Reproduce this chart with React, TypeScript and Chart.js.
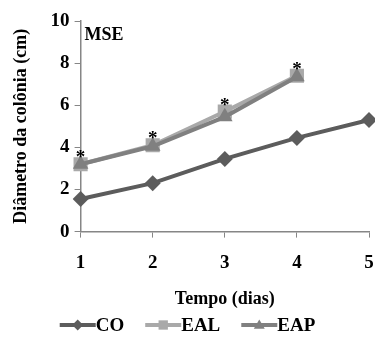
import React, { useEffect, useRef } from "react";
import { Chart, registerables } from "chart.js";

Chart.register(...registerables);

const days = ["1", "2", "3", "4", "5"];
const coValues = [1.55, 2.3, 3.45, 4.45, 5.3];
const ealValues = [3.2, 4.1, 5.7, 7.4, null];
const eapValues = [3.2, 4.05, 5.45, 7.35, null];
const significance = ["*", "*", "*", "*", ""];

const FONT = "'Liberation Serif', 'Times New Roman', serif";
const AXIS = "#868686";
const PAGE_W = 375;

const seriesMeta = [
  { label: "CO", color: "#5c5c5c", style: "rectRot", radius: 8 },
  { label: "EAL", color: "#a9a9a9", style: "rect", radius: 10 },
  { label: "EAP", color: "#808080", style: "triangle", radius: 9 },
];

function drawMarker(ctx: CanvasRenderingContext2D, style: string, x: number, y: number, r: number) {
  ctx.beginPath();
  if (style === "rectRot") {
    ctx.moveTo(x, y - r);
    ctx.lineTo(x + r, y);
    ctx.lineTo(x, y + r);
    ctx.lineTo(x - r, y);
  } else if (style === "rect") {
    const s = r * 0.85;
    ctx.rect(x - s, y - s, 2 * s, 2 * s);
  } else {
    ctx.moveTo(x, y - r);
    ctx.lineTo(x + r, y + r * 0.7);
    ctx.lineTo(x - r, y + r * 0.7);
  }
  ctx.closePath();
  ctx.fill();
}

const annotations = {
  id: "annotations",
  afterDatasetsDraw(chart: any) {
    const ctx = chart.ctx;
    const xs = chart.scales.x;
    const ys = chart.scales.y;
    ctx.save();
    ctx.fillStyle = "#000";
    ctx.font = `bold 19px ${FONT}`;
    ctx.textAlign = "center";
    ctx.textBaseline = "alphabetic";
    significance.forEach((s, i) => {
      const v = ealValues[i];
      if (!s || v == null) return;
      const top = Math.max(v, eapValues[i] ?? v);
      ctx.fillText(s, xs.getPixelForValue(i), ys.getPixelForValue(top) - 1);
    });
    ctx.textAlign = "left";
    ctx.textBaseline = "middle";
    ctx.font = `bold 18px ${FONT}`;
    ctx.fillText("MSE", chart.chartArea.left + 4, chart.chartArea.top + 14);
    ctx.restore();
  },
  afterDraw(chart: any) {
    const ctx = chart.ctx;
    ctx.save();
    ctx.font = `bold 19px ${FONT}`;
    const lineLen = 36;
    const gap = 21;
    const widths = seriesMeta.map((m) => ctx.measureText(m.label).width);
    const total =
      widths.reduce((a, b) => a + b, 0) + seriesMeta.length * lineLen + gap * (seriesMeta.length - 1);
    let x = PAGE_W / 2 - total / 2;
    const y = 325;
    seriesMeta.forEach((m, i) => {
      ctx.strokeStyle = m.color;
      ctx.lineWidth = 4;
      ctx.beginPath();
      ctx.moveTo(x, y);
      ctx.lineTo(x + lineLen, y);
      ctx.stroke();
      ctx.fillStyle = m.color;
      drawMarker(ctx, m.style, x + lineLen / 2, y, 5.5);
      ctx.fillStyle = "#000";
      ctx.textAlign = "left";
      ctx.textBaseline = "middle";
      ctx.fillText(m.label, x + lineLen, y + 1);
      x += lineLen + widths[i] + gap;
    });
    ctx.restore();
  },
};

export default function App() {
  const ref = useRef<HTMLCanvasElement>(null);
  useEffect(() => {
    if (!ref.current) return;
    const series = [coValues, ealValues, eapValues];
    const chart = new Chart(ref.current, {
      type: "line",
      data: {
        labels: days,
        datasets: [2, 1, 0].map((k) => ({
          label: seriesMeta[k].label,
          data: series[k] as any,
          borderColor: seriesMeta[k].color,
          backgroundColor: seriesMeta[k].color,
          borderWidth: 4,
          pointStyle: seriesMeta[k].style as any,
          pointRadius: seriesMeta[k].radius,
          pointBorderWidth: 0,
          tension: 0,
          spanGaps: false,
        })),
      },
      options: {
        animation: false,
        responsive: true,
        maintainAspectRatio: false,
        layout: { padding: { top: 21, right: 2, bottom: 46, left: 11 } },
        plugins: { legend: { display: false }, tooltip: { enabled: false } },
        scales: {
          x: {
            offset: false,
            afterFit: (scale: any) => {
              scale.paddingRight = 0;
              scale.paddingLeft = 0;
            },
            grid: { drawOnChartArea: false, drawTicks: true, tickLength: 6, color: AXIS },
            border: { color: AXIS, width: 1.5 },
            ticks: { color: "#000", font: { family: FONT, size: 19, weight: "bold" }, padding: 14, maxRotation: 0 },
            title: {
              display: true,
              text: "Tempo (dias)",
              color: "#000",
              font: { family: FONT, size: 18, weight: "bold" },
              padding: { top: 0, bottom: 0 },
            },
          },
          y: {
            min: 0,
            max: 10,
            ticks: { stepSize: 2, color: "#000", font: { family: FONT, size: 19, weight: "bold" }, padding: 5 },
            grid: { drawOnChartArea: false, drawTicks: true, tickLength: 6, color: AXIS },
            border: { color: AXIS, width: 1.5 },
            title: {
              display: true,
              text: "Diâmetro da colônia (cm)",
              color: "#000",
              font: { family: FONT, size: 18, weight: "bold" },
              padding: { top: 0, bottom: 13 },
            },
          },
        },
      },
      plugins: [annotations],
    });
    return () => chart.destroy();
  }, []);
  return (
    <div style={{ position: "absolute", left: 0, top: 0, width: PAGE_W, height: 356, overflow: "hidden", background: "#fff" }}>
      <div style={{ position: "relative", width: PAGE_W + 4, height: 356 }}>
        <canvas ref={ref} />
      </div>
    </div>
  );
}
